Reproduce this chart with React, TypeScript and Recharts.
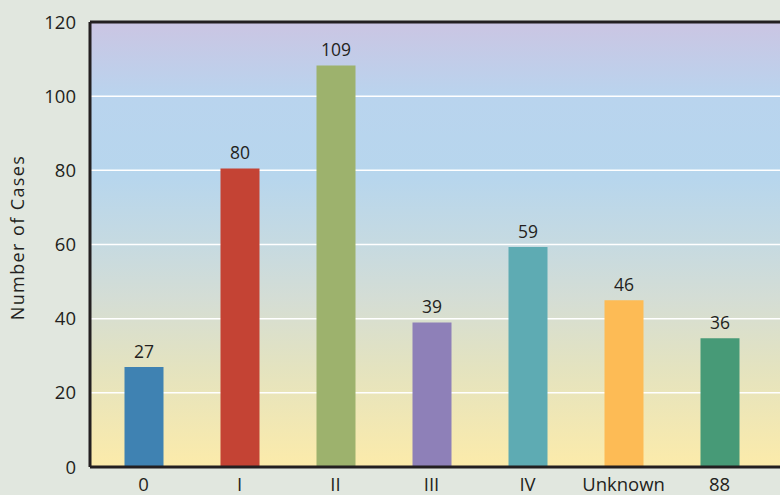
import { BarChart, Bar, XAxis, YAxis, CartesianGrid, ReferenceLine, LabelList, Cell } from "recharts";

const stages = ["0", "I", "II", "III", "IV", "Unknown", "88"];
// bar heights as drawn
const cases = [27, 80.5, 108.3, 39, 59.3, 45, 34.7];
// numbers printed above the bars
const caseLabels = ["27", "80", "109", "39", "59", "46", "36"];
const barColors = ["#3f82b2", "#c44334", "#9db26d", "#8e80b8", "#5eabb3", "#fdbb55", "#479a77"];
const yTicks = [0, 20, 40, 60, 80, 100, 120];

const data = stages.map((s, i) => ({ stage: s, cases: cases[i], label: caseLabels[i] }));

const FONT = "'Open Sans', sans-serif";
const INK = "#231f20";

function BarLabel(props: any) {
  const { x, y, width, index } = props;
  return (
    <text x={x + width / 2} y={y - 9} textAnchor="middle" fontFamily={FONT} fontSize={17.5} fill={INK}>
      {caseLabels[index]}
    </text>
  );
}

function YTitle(props: any) {
  const vb = props.viewBox;
  const cx = vb.x + 17;
  const cy = vb.y + vb.height / 2 - 7;
  return (
    <text
      x={cx}
      y={cy}
      transform={`rotate(-90 ${cx} ${cy})`}
      textAnchor="middle"
      dominantBaseline="central"
      fontFamily={FONT}
      fontSize={18}
      letterSpacing={1.4}
      fill={INK}
    >
      Number of Cases
    </text>
  );
}

export default function App() {
  return (
    <div style={{ position: "absolute", left: 0, top: 0, width: 780, height: 495, background: "#e1e7df", overflow: "hidden" }}>
      <BarChart width={780} height={495} data={data} margin={{ top: 22, right: 0, left: 0, bottom: 0 }}>
        <defs>
          <linearGradient id="plotBg" x1="0" y1="0" x2="0" y2="1">
            <stop offset="0%" stopColor="#cbc5e3" />
            <stop offset="17%" stopColor="#b9d4ee" />
            <stop offset="35%" stopColor="#b7d6ed" />
            <stop offset="50%" stopColor="#c6dae1" />
            <stop offset="62%" stopColor="#d4ddd5" />
            <stop offset="78%" stopColor="#e4e3bf" />
            <stop offset="100%" stopColor="#fcebaa" />
          </linearGradient>
        </defs>
        <CartesianGrid vertical={false} stroke="#ffffff" strokeWidth={1.5} fill="url(#plotBg)" fillOpacity={1} />
        <XAxis
          dataKey="stage"
          height={28}
          padding={{ left: 5.5, right: 12.5 }}
          axisLine={{ stroke: INK, strokeWidth: 3 }}
          tickLine={false}
          tickMargin={5}
          tick={{ fontFamily: FONT, fontSize: 18.5, fill: INK }}
          interval={0}
        />
        <YAxis
          width={90}
          domain={[0, 120]}
          ticks={yTicks}
          axisLine={{ stroke: INK, strokeWidth: 3 }}
          tickLine={false}
          tickMargin={8}
          tick={{ fontFamily: FONT, fontSize: 18.5, fill: INK }}
          label={<YTitle />}
        />
        <ReferenceLine y={120} stroke={INK} strokeWidth={3} />
        <Bar dataKey="cases" barSize={39} isAnimationActive={false}>
          {data.map((d, i) => (
            <Cell key={d.stage} fill={barColors[i]} />
          ))}
          <LabelList dataKey="label" content={<BarLabel />} />
        </Bar>
      </BarChart>
    </div>
  );
}
